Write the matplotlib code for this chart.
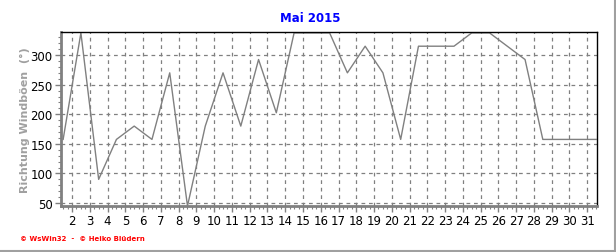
import matplotlib
matplotlib.use("Agg")
import matplotlib.pyplot as plt
from matplotlib.ticker import MultipleLocator
from matplotlib.lines import Line2D

tage = list(range(1, 32))
richtung = [157.5, 337.5, 90, 157.5, 180, 157.5, 270, 45, 180, 270,
            180, 292.5, 202.5, 337.5, 337.5, 337.5, 270, 315, 270, 157.5,
            315, 315, 315, 337.5, 337.5, 315, 292.5, 157.5, 157.5, 157.5,
            157.5]
xticks = list(range(2, 32))
yticks = [50, 100, 150, 200, 250, 300]

fig = plt.figure(figsize=(6.16, 2.53), dpi=100)
ax = fig.add_axes([61 / 616, 1 - 207 / 253, 536 / 616, 174 / 253])

# Tageswerte jeweils zur Tagesmitte
ax.plot([t + 0.5 for t in tage], richtung, color="#808080", lw=1, clip_on=True)

ax.set_xlim(1.38, 31.55)
ax.set_ylim(45, 339)
ax.set_xticks(xticks)
ax.set_yticks(yticks)
ax.xaxis.set_minor_locator(MultipleLocator(0.25))
ax.yaxis.set_minor_locator(MultipleLocator(10))
ax.grid(True, which="major", color="#808080", ls=(0, (3, 3)), lw=0.9)

ax.tick_params(axis="both", which="major", labelsize=8.5, length=4,
               color="#808080", width=1, pad=2)
ax.tick_params(axis="both", which="minor", length=2, color="#808080", width=0.8)

for s in ["left", "bottom"]:
    ax.spines[s].set_color("#808080")
    ax.spines[s].set_linewidth(2)
for s in ["top", "right"]:
    ax.spines[s].set_color("black")
    ax.spines[s].set_linewidth(1)

ax.set_ylabel("Richtung Windböen  (°)", color="#a0a0a0", fontsize=8,
              fontweight="bold", labelpad=0)

fig.text(310 / 616, 1 - 19 / 253, "Mai 2015", color="#0000ff", fontsize=8.5,
         fontweight="bold", ha="center", va="center")
fig.text(20 / 616, 1 - 239 / 253, "© WsWin32  -  © Heiko Blüdern", color="#ff0000",
         fontsize=5, fontweight="bold", ha="left", va="center")

# Rahmen rechts und unten
fig.add_artist(Line2D([0, 614.5 / 616], [1 - 251.5 / 253, 1 - 251.5 / 253],
                      transform=fig.transFigure, color="#a0a0a0", lw=1.5))
fig.add_artist(Line2D([614.5 / 616, 614.5 / 616], [1 - 251.5 / 253, 1],
                      transform=fig.transFigure, color="#a0a0a0", lw=1.5))

fig.savefig("out.png", dpi=100, facecolor="white")
